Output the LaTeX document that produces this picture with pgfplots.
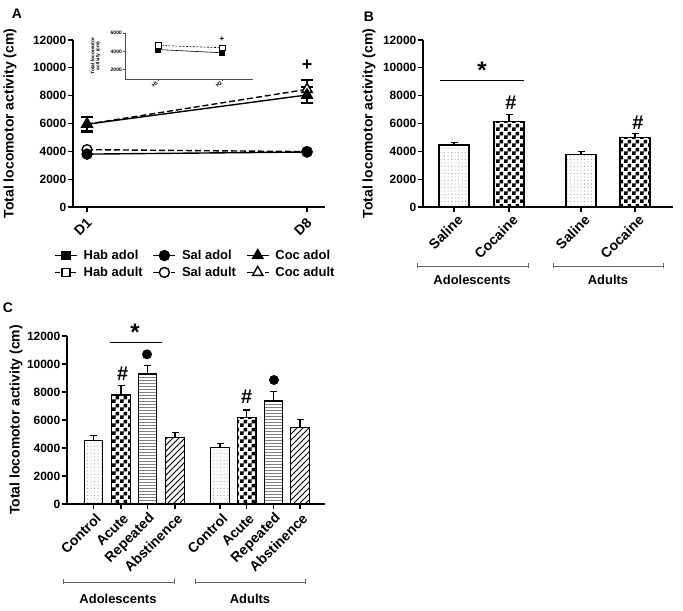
\documentclass[border=0pt]{standalone}
\usepackage{pgfplots}
\pgfplotsset{compat=1.18}
\usepackage{fontspec}
\setmainfont{Liberation Sans}
\usetikzlibrary{patterns}
\newcommand{\fs}[1]{\bfseries\fontsize{#1}{#1}\selectfont}

\pgfdeclarepatternformonly{checker}{\pgfpointorigin}{\pgfqpoint{8bp}{8bp}}{\pgfqpoint{8bp}{8bp}}{%
  \pgfpathrectangle{\pgfpointorigin}{\pgfqpoint{4bp}{4bp}}%
  \pgfpathrectangle{\pgfqpoint{4bp}{4bp}}{\pgfqpoint{4bp}{4bp}}%
  \pgfusepath{fill}}
\pgfdeclarepatternformonly{sdots}{\pgfqpoint{-1bp}{-1bp}}{\pgfqpoint{1bp}{1bp}}{\pgfqpoint{3.5bp}{3.5bp}}{%
  \pgfpathcircle{\pgfpointorigin}{0.5bp}\pgfusepath{fill}}
\pgfdeclarepatternformonly{hlines}{\pgfqpoint{0bp}{-0.5bp}}{\pgfqpoint{100bp}{0.5bp}}{\pgfqpoint{100bp}{3bp}}{%
  \pgfsetlinewidth{0.8bp}\pgfpathmoveto{\pgfqpoint{0bp}{0bp}}\pgfpathlineto{\pgfqpoint{100bp}{0bp}}\pgfusepath{stroke}}
\pgfdeclarepatternformonly{nelines}{\pgfqpoint{-1bp}{-1bp}}{\pgfqpoint{7bp}{7bp}}{\pgfqpoint{6bp}{6bp}}{%
  \pgfsetlinewidth{0.9bp}\pgfpathmoveto{\pgfqpoint{0bp}{0bp}}\pgfpathlineto{\pgfqpoint{6.1bp}{6.1bp}}\pgfusepath{stroke}}

\pgfplotsset{
  mystyle/.style={
    scale only axis, anchor=south west, clip=false,
    axis x line*=bottom, axis y line*=left,
    axis line style={-, line width=1.3bp},
    tick align=outside, major tick length=5bp,
    tick style={black, line width=1.3bp},
    ymin=0, ymax=12000, ytick={0,2000,...,12000},
    scaled y ticks=false,
    /pgf/number format/1000 sep={},
    /pgf/number format/assume math mode=true,
    yticklabel style={font=\fs{12}, inner sep=1.5bp},
    xticklabel style={font=\fs{14}, rotate=45, anchor=east, inner sep=1.5bp},
    ylabel={Total locomotor activity (cm)},
    ylabel style={font=\fs{14}},
  },
  barerr/.style={error bars/.cd, y dir=plus, y explicit,
    error bar style={line width=1.2bp, black, solid},
    error mark options={rotate=90, mark size=3.5bp, line width=1.2bp, black}},
  cocadult/.style={black, line width=1.4bp, dash pattern=on 6bp off 3bp, mark=triangle*, mark size=6bp, mark options={fill=white, solid}},
  saladult/.style={black, line width=1.4bp, dash pattern=on 6bp off 3bp, mark=*, mark size=5bp, mark options={fill=white, solid}},
}

\begin{document}
\begin{tikzpicture}
\path[use as bounding box] (0,0) rectangle (683bp,611bp);

% ---------------- Panel A ----------------
\begin{axis}[mystyle, at={(73bp,404bp)}, width=252bp, height=167bp,
  xmin=73, xmax=325, xtick={87,307}, xticklabels={D1,D8},
  xticklabel style={xshift=-3bp, yshift=-7.8bp},
  ylabel style={at={(axis description cs:-0.25,0.5)}, anchor=center},
  legend columns=3, legend cell align=left,
  legend style={at={(axis description cs:-0.075,-0.245)}, anchor=north west, draw=none, fill=none,
    font=\fs{13}, row sep=2bp, inner sep=0bp,
    /tikz/every odd column/.append style={column sep=4bp},
    /tikz/every even column/.append style={column sep=8bp}},
  legend image code/.code={\draw[mark repeat=2,mark phase=2,#1] plot coordinates {(0bp,0bp) (11bp,0bp) (22bp,0bp)};},
]
\addplot[cocadult, forget plot,
  error bars/.cd, y dir=both, y explicit, error bar style={line width=1.4bp, solid},
  error mark options={rotate=90, mark size=6bp, line width=1.4bp, solid}]
  coordinates {(87,5950) +- (0,500) (307,8450) +- (0,670)};
\addplot[saladult, forget plot] coordinates {(87,4120) (307,3980)};
\addlegendimage{black, line width=1.4bp, mark=square*, mark size=4bp}
\addlegendentry{Hab adol}
\addplot[black, line width=1.4bp, mark=*, mark size=5bp] coordinates {(87,3800) (307,3950)};
\addlegendentry{Sal adol}
\addplot[black, line width=1.4bp, mark=triangle*, mark size=6bp,
  error bars/.cd, y dir=both, y explicit, error bar style={line width=1.4bp, solid},
  error mark options={rotate=90, mark size=6bp, line width=1.4bp}]
  coordinates {(87,5950) +- (0,560) (307,8050) +- (0,570)};
\addlegendentry{Coc adol}
\addlegendimage{black, line width=1.4bp, dash pattern=on 5bp off 3bp, mark=square*, mark size=4bp, mark options={fill=white, solid}}
\addlegendentry{Hab adult}
\addlegendimage{saladult}
\addlegendentry{Sal adult}
\addlegendimage{cocadult}
\addlegendentry{Coc adult}
\node[font=\fs{18}] at (axis cs:307,10200) {+};
\end{axis}

% ---------------- Inset ----------------
\begin{axis}[scale only axis, anchor=south west, clip=false, at={(125bp,532bp)}, width=128bp, height=46bp,
  xmin=125, xmax=253, ymin=1000, ymax=6000, xtick={158,222}, xticklabels={H1,H2}, ytick={2000,4000,6000},
  axis x line*=bottom, axis y line*=left, axis line style={-, line width=0.6bp, black!70},
  tick align=outside, major tick length=2bp, tick style={line width=0.6bp, black!70},
  scaled y ticks=false, /pgf/number format/1000 sep={}, /pgf/number format/assume math mode=true,
  yticklabel style={font=\fs{5}, inner sep=1bp},
  xticklabel style={font=\fs{5}, rotate=45, anchor=east, inner sep=1bp},
  ylabel={Total locomotor\\activity (cm)},
  ylabel style={font=\fs{5}, align=center, at={(axis description cs:-0.23,0.5)}, anchor=center},
]
\addplot[black, line width=0.6bp, mark=square*, mark size=2.5bp] coordinates {(158,4200) (222,3850)};
\addplot[black, line width=0.6bp, dash pattern=on 2bp off 1.5bp, mark=square*, mark size=2.8bp, mark options={fill=white, solid}]
  coordinates {(158,4650) (222,4400)};
\node[font=\fs{8}] at (axis cs:222,5350) {+};
\end{axis}

% ---------------- Panel B ----------------
\begin{axis}[mystyle, at={(423bp,404bp)}, width=250bp, height=167bp,
  xmin=423, xmax=673, ybar, bar width=30, bar shift=0pt,
  xtick={454,509,581,635}, xticklabels={Saline,Cocaine,Saline,Cocaine},
  xticklabel style={xshift=2bp, yshift=-8.5bp},
  ylabel style={at={(axis description cs:-0.216,0.5)}, anchor=center},
]
\addplot[draw=black, line width=1.2bp, pattern=sdots, pattern color=black!45, barerr]
  coordinates {(454,4450) +- (0,160) (581,3800) +- (0,160)};
\addplot[draw=black, line width=1.2bp, pattern=checker, pattern color=black, barerr]
  coordinates {(509,6120) +- (0,530) (635,4990) +- (0,290)};
\draw[line width=1.2bp] (axis cs:440,9075) -- (axis cs:524,9075);
\node[font=\fs{24}, anchor=base] at (axis cs:482,9198) {*};
\node[font=\fs{20}] at (axis cs:511,7473) {\#};
\node[font=\fs{20}] at (axis cs:638,6036) {\#};
\end{axis}

% ---------------- Panel C ----------------
\begin{axis}[mystyle, at={(67bp,107bp)}, width=258bp, height=168bp,
  xmin=67, xmax=325, ybar, bar width=18.5, bar shift=0pt,
  xtick={93.5,121,147.5,175,220,246.7,273.5,300},
  xticklabels={Control,Acute,Repeated,Abstinence,Control,Acute,Repeated,Abstinence},
  xticklabel style={xshift=0bp, yshift=-8.5bp},
  ylabel style={at={(axis description cs:-0.198,0.5)}, anchor=center},
]
\addplot[draw=black, line width=1.2bp, pattern=sdots, pattern color=black!45, barerr]
  coordinates {(93.5,4520) +- (0,400) (220,4050) +- (0,280)};
\addplot[draw=black, line width=1.2bp, pattern=checker, pattern color=black, barerr]
  coordinates {(121,7780) +- (0,670) (246.7,6190) +- (0,520)};
\addplot[draw=black, line width=1.2bp, pattern=hlines, pattern color=black!50, barerr]
  coordinates {(147.5,9280) +- (0,600) (273.5,7350) +- (0,670)};
\addplot[draw=black, line width=1.2bp, pattern=nelines, pattern color=black, barerr]
  coordinates {(175,4740) +- (0,360) (300,5470) +- (0,580)};
\draw[line width=1.2bp] (axis cs:110,11550) -- (axis cs:162,11550);
\node[font=\fs{24}, anchor=base] at (axis cs:135,11643) {*};
\node[font=\fs{20}] at (axis cs:122.7,9286) {\#};
\node[font=\fs{20}] at (axis cs:246.7,7664) {\#};
\node[circle, fill=black, inner sep=0pt, minimum size=10bp] at (axis cs:147,10693) {};
\node[circle, fill=black, inner sep=0pt, minimum size=10bp] at (axis cs:274,8857) {};
\end{axis}

% ---------------- Panel letters and group brackets ----------------
\node[font=\fs{14}] at (17bp,597bp) {A};
\node[font=\fs{14}] at (369bp,594bp) {B};
\node[font=\fs{14}] at (8bp,303bp) {C};

\begin{scope}[black!60, line width=0.8bp]
\draw (417bp,342.5bp) -- (417bp,347.5bp) (417bp,345bp) -- (528bp,345bp) (528bp,342.5bp) -- (528bp,347.5bp);
\draw (553bp,342.5bp) -- (553bp,347.5bp) (553bp,345bp) -- (663bp,345bp) (663bp,342.5bp) -- (663bp,347.5bp);
\draw (63bp,26.5bp) -- (63bp,31.5bp) (63bp,29bp) -- (174bp,29bp) (174bp,26.5bp) -- (174bp,31.5bp);
\draw (195bp,26.5bp) -- (195bp,31.5bp) (195bp,29bp) -- (305bp,29bp) (305bp,26.5bp) -- (305bp,31.5bp);
\end{scope}
\node[font=\fs{13}] at (472bp,331bp) {Adolescents};
\node[font=\fs{13}] at (608bp,331bp) {Adults};
\node[font=\fs{13}] at (118bp,12bp) {Adolescents};
\node[font=\fs{13}] at (250bp,12bp) {Adults};
\end{tikzpicture}
\end{document}
